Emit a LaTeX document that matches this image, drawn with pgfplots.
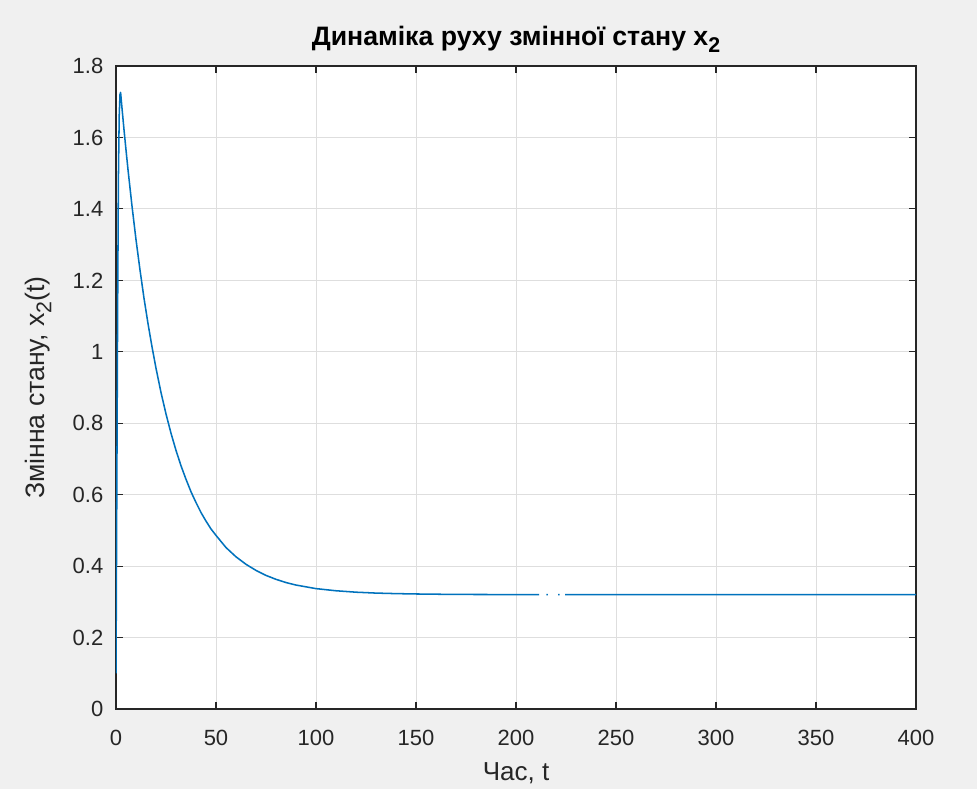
\documentclass[border=0pt]{standalone}
\usepackage{fontspec}
\setmainfont{Liberation Sans}
\usepackage{pgfplots}
\pgfplotsset{compat=1.18}
\usetikzlibrary{backgrounds}
\definecolor{mblue}{rgb}{0,0.447,0.741}
\definecolor{axgray}{rgb}{0.15,0.15,0.15}
\definecolor{figbg}{rgb}{0.94,0.94,0.94}
\definecolor{gridc}{RGB}{222,222,222}
\newcommand\sub[1]{\raisebox{-0.45ex}{\scalebox{0.8}{#1}}}
\begin{document}
\begin{tikzpicture}[x=0.75pt,y=0.75pt]
\begin{axis}[
  at={(0,0)}, anchor=south west,
  scale only axis, width=600pt, height=482.25pt,
  xmin=0, xmax=400, ymin=0, ymax=1.8,
  xtick={0,50,100,150,200,250,300,350,400},
  ytick={0,0.2,0.4,0.6,0.8,1,1.2,1.4,1.6,1.8},
  yticklabels={0,0.2,0.4,0.6,0.8,1,1.2,1.4,1.6,1.8},
  grid=major,
  major grid style={gridc, line width=0.6pt},
  axis line style={axgray, line width=1.1pt},
  tick style={axgray, line width=0.8pt},
  tick align=inside,
  major tick length=5pt,
  axis background/.style={fill=white},
  /pgf/number format/assume math mode=true,
  tick label style={font=\fontsize{16.5}{19}\selectfont, text=axgray},
  xticklabel style={yshift=-12pt},
  yticklabel style={xshift=-6pt},
  title={Динаміка руху змінної стану x\sub{2}},
  title style={at={(axis description cs:0.5,1)}, anchor=base, yshift=9pt, font=\bfseries\fontsize{20}{24}\selectfont, text=black},
  xlabel={Час, t},
  ylabel={Змінна стану, x\sub{2}(t)},
  xlabel style={at={(axis description cs:0.5,-0.0995)}, anchor=center, font=\fontsize{19.5}{23}\selectfont, text=axgray},
  ylabel style={at={(axis description cs:-0.0969,0.5)}, anchor=center, font=\fontsize{20}{23}\selectfont, text=axgray},
  unbounded coords=jump,
]
\addplot[mblue, line width=1.15pt, line join=round] coordinates {
(0,0.10) (0.4,0.60) (0.8,1.10) (1.2,1.48) (1.6,1.66) (2.0,1.72) (2.3,1.726)
(3,1.682) (4,1.622) (5,1.565) (6,1.510) (8,1.408) (10,1.314) (12,1.229)
(14,1.150) (16,1.079) (18,1.014) (20,0.954) (22.5,0.886) (25,0.826)
(27.5,0.772) (30,0.724) (32.5,0.681) (35,0.643) (37.5,0.608) (40,0.578)
(42.5,0.550) (45,0.526) (47.5,0.504) (50,0.486) (55,0.452) (60,0.426)
(65,0.405) (70,0.388) (75,0.374) (80,0.363) (85,0.354) (90,0.347)
(95,0.342) (100,0.337) (110,0.331) (120,0.327) (130,0.3245) (140,0.323)
(150,0.322) (170,0.3207) (200,0.3203)
(211.5,0.320) (211.6,nan)
(215.2,0.320) (215.9,0.320) (216,nan)
(221.0,0.320) (221.8,0.320) (222,nan)
(224.5,0.320) (300,0.320) (400,0.320)
};
\end{axis}
\begin{scope}[on background layer]
\fill[figbg] (-116,-80) rectangle (861,709);
\end{scope}
\end{tikzpicture}
\end{document}
